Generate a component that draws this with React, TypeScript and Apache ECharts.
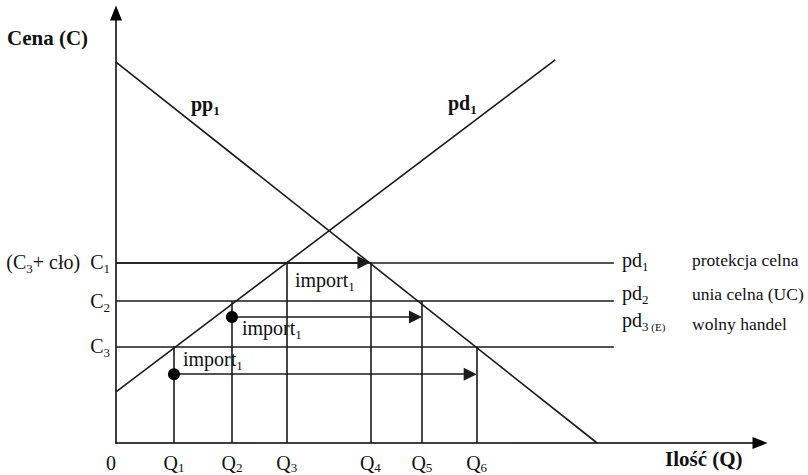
import React, { useEffect, useRef } from 'react';
import * as echarts from 'echarts';

// Quantities Q1..Q6 (x axis units)
const quantities = [9, 18, 26.5, 39.5, 47.5, 56];
const quantityIndex = ['1', '2', '3', '4', '5', '6'];
// Prices C1, C2, C3 (y axis units)
const prices = [42, 33, 22.5];
const priceIndex = ['1', '2', '3'];
// Height of the three import arrows
const importArrowLevels = [42, 29.3, 16];
// Domestic supply (pd1) and demand (pp1) lines
const supplyPoints = [[0, 11.9], [68.2, 89.1]];
const demandPoints = [[0, 88.6], [74.7, 0]];
// Right end of the price lines
const priceLineEnd = 77.3;

const FONT = "'Liberation Serif', 'Times New Roman', serif";
const INK = '#111';

const rich: any = {
  m: { fontFamily: FONT, fontSize: 20, color: INK },
  s: { fontFamily: FONT, fontSize: 13, color: INK, padding: [13, 0, 0, 0] },
  e: { fontFamily: FONT, fontSize: 11, color: INK, padding: [13, 0, 0, 0] },
  xm: { fontFamily: FONT, fontSize: 20, color: INK, lineHeight: 23 },
  xs: { fontFamily: FONT, fontSize: 13, color: INK, padding: [10, 0, 0, 0] },
  z: { fontFamily: FONT, fontSize: 20, color: INK, lineHeight: 23, padding: [0, 10, 0, 0] },
  b: { fontFamily: FONT, fontSize: 20, fontWeight: 'bold', color: INK },
  bs: { fontFamily: FONT, fontSize: 13, fontWeight: 'bold', color: INK, padding: [13, 0, 0, 0] },
  d: { fontFamily: FONT, fontSize: 17.5, color: INK },
  t: { fontFamily: FONT, fontSize: 21, fontWeight: 'bold', color: INK },
};

function txt(x: number, y: number, text: string) {
  return {
    type: 'text',
    x,
    y,
    silent: true,
    style: { text, rich, fontFamily: FONT, textAlign: 'left', textVerticalAlign: 'middle', align: 'left', verticalAlign: 'middle', fill: INK },
  };
}

export default function App() {
  const ref = useRef<HTMLDivElement>(null);
  useEffect(() => {
    const chart = echarts.init(ref.current!, null, { renderer: 'svg' });
    const [Q1, Q2, Q3, Q4, Q5, Q6] = quantities;
    const [C1, C2, C3] = prices;
    const arrowBack = 1.0;
    const segments = [
      [[0, C1], [priceLineEnd, C1]],
      [[0, C2], [priceLineEnd, C2]],
      [[0, C3], [priceLineEnd, C3]],
      [[Q1, 0], [Q1, C3]],
      [[Q2, 0], [Q2, C2]],
      [[Q3, 0], [Q3, C1]],
      [[Q4, 0], [Q4, C1]],
      [[Q5, 0], [Q5, C2]],
      [[Q6, 0], [Q6, C3]],
      supplyPoints,
      demandPoints,
    ];
    const arrows = [
      [[0, importArrowLevels[0]], [Q4 - arrowBack, importArrowLevels[0]]],
      [[Q2, importArrowLevels[1]], [Q5 - arrowBack, importArrowLevels[1]]],
      [[Q1, importArrowLevels[2]], [Q6 - arrowBack, importArrowLevels[2]]],
    ];
    const dots = [[Q2, importArrowLevels[1]], [Q1, importArrowLevels[2]]];

    chart.setOption({
      animation: false,
      backgroundColor: '#fff',
      textStyle: { fontFamily: FONT },
      grid: { left: 116, right: 48, top: 13, bottom: 32, containLabel: false, outerBoundsMode: 'none' },
      xAxis: {
        type: 'value',
        min: 0,
        max: 100,
        axisLine: { show: true, symbol: ['none', 'triangle'], symbolSize: [12, 15], lineStyle: { color: '#000', width: 1.5 } },
        axisTick: { show: false },
        splitLine: { show: false },
        axisLabel: {
          customValues: [0, ...quantities],
          margin: 8,
          rich,
          formatter: (v: number) => {
            const i = quantities.indexOf(v);
            return i < 0 ? '{z|0}' : `{xm|Q}{xs|${quantityIndex[i]}}`;
          },
        },
      },
      yAxis: {
        type: 'value',
        min: 0,
        max: 100,
        axisLine: { show: true, symbol: ['none', 'triangle'], symbolSize: [12, 15], lineStyle: { color: '#000', width: 1.5 } },
        axisTick: { show: false },
        splitLine: { show: false },
        axisLabel: {
          customValues: prices,
          margin: 6,
          rich,
          formatter: (v: number) => {
            const i = prices.indexOf(v);
            const lab = `{m|C}{s|${priceIndex[i]}}`;
            return i === 0 ? `{m|(C}{s|3}{m|+ cło)  }` + lab : lab;
          },
        },
      },
      series: [
        {
          type: 'lines',
          coordinateSystem: 'cartesian2d',
          silent: true,
          lineStyle: { color: '#1a1a1a', width: 1.6, opacity: 1 },
          data: segments.map((c) => ({ coords: c })),
        },
        {
          type: 'lines',
          coordinateSystem: 'cartesian2d',
          silent: true,
          symbol: ['none', 'triangle'],
          symbolSize: 13,
          lineStyle: { color: '#1a1a1a', width: 1.6, opacity: 1 },
          itemStyle: { color: '#000' },
          data: arrows.map((c) => ({ coords: c })),
        },
        {
          type: 'scatter',
          silent: true,
          symbolSize: 12,
          itemStyle: { color: '#000', opacity: 1 },
          data: dots,
        },
      ],
      graphic: [
        txt(7, 38, '{t|Cena (C)}'),
        txt(665, 459, '{t|Ilość (Q)}'),
        txt(191, 104, '{b|pp}{bs|1}'),
        txt(448, 103, '{b|pd}{bs|1}'),
        txt(295, 280, '{m|import}{s|1}'),
        txt(242, 328, '{m|import}{s|1}'),
        txt(183, 359, '{m|import}{s|1}'),
        txt(622, 260, '{m|pd}{s|1}'),
        txt(622, 293, '{m|pd}{s|2}'),
        txt(622, 320, '{m|pd}{s|3}{e| (E)}'),
        txt(692, 260, '{d|protekcja celna}'),
        txt(692, 294, '{d|unia celna (UC)}'),
        txt(692, 324, '{d|wolny handel}'),
      ],
    });
    return () => chart.dispose();
  }, []);
  return <div ref={ref} style={{ position: 'absolute', left: 0, top: 0, width: 808, height: 475, background: '#fff' }} />;
}
